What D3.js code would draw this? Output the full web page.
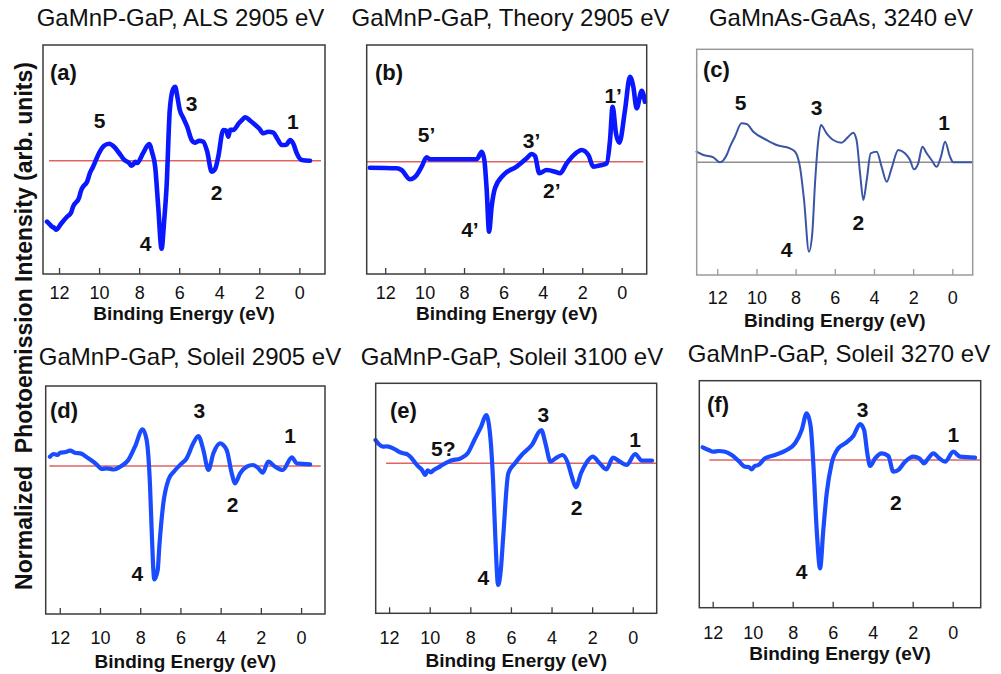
<!DOCTYPE html>
<html>
<head>
<meta charset="utf-8">
<script src="https://cdn.jsdelivr.net/npm/d3@7"></script>
<style>
  html, body { margin: 0; padding: 0; background: #fff; }
  svg { display: block; font-family: Arial, "Liberation Sans", Helvetica, sans-serif; }
</style>
</head>
<body>
<svg id="chart" width="1001" height="674"></svg>
<script>
// ---- data: binding energy (eV) and normalized intensity (arb. units) ----
const energyA = [12.6, 12.45, 12.35, 12.25, 12.13, 11.9, 11.6, 11.4, 11.3, 11.0, 10.9, 10.8, 10.6, 10.45, 10.3, 10.15, 10.0, 9.75, 9.5, 9.25, 9.0, 8.75, 8.6, 8.5, 8.4, 8.3, 8.2, 8.1, 7.8, 7.5, 7.35, 7.2, 7.05, 6.88, 6.75, 6.63, 6.47, 6.3, 6.2, 6.1, 5.97, 5.8, 5.6, 5.38, 5.2, 5.0, 4.8, 4.6, 4.38, 4.2, 4.05, 3.8, 3.65, 3.55, 3.45, 3.3, 3.0, 2.85, 2.7, 2.45, 2.2, 2.0, 1.8, 1.55, 1.3, 1.1, 0.88, 0.65, 0.47, 0.3, 0.13, -0.12, -0.53];
const intensityA = [-6.1, -6.4, -6.6, -6.7, -6.9, -6.3, -5.6, -5.2, -4.6, -3.7, -3.0, -2.6, -2.1, -1.2, -0.6, 0.1, 0.77, 1.5, 1.7, 1.4, 0.77, 0.1, -0.1, -0.23, -0.5, -0.4, -0.1, -0.23, 0.77, 1.67, 0.8, -0.6, -4.5, -8.8, -6.0, -2.6, 5.07, 7.2, 7.4, 6.5, 5.07, 4.3, 3.4, 2.07, 1.8, 2.0, 1.9, 0.9, -1.1, -0.8, 0.4, 3.07, 3.0, 2.4, 3.1, 3.07, 3.8, 4.1, 4.34, 4.0, 3.57, 3.2, 2.74, 2.9, 2.8, 2.2, 1.57, 1.6, 2.07, 1.7, 0.74, 0.07, 0.0];

const energyB = [12.78, 11.42, 11.17, 10.74, 10.4, 10.15, 9.9, 9.73, 7.36, 7.1, 6.97, 6.85, 6.73, 6.6, 6.43, 6.0, 5.33, 4.82, 4.57, 4.4, 4.18, 3.81, 3.38, 3.13, 2.79, 2.37, 2.03, 1.69, 1.44, 1.02, 0.76, 0.59, 0.46, 0.29, 0.12, -0.17, -0.42, -0.59, -0.76, -1.02, -1.18];
const intensityB = [-0.6, -0.66, -0.83, -1.76, -1.33, -0.5, 0.44, 0.24, 0.24, 1.0, 0.17, -2.83, -7.0, -4.5, -2.66, -1.33, -0.5, 0.34, 0.77, 0.57, -1.16, -0.83, -1.0, -1.16, -0.16, 0.77, 1.17, 0.67, -0.5, -0.33, -0.16, 2.17, 5.5, 2.84, 1.9, 5.17, 8.5, 7.5, 5.34, 7.1, 6.0];

const energyC = [13.06, 12.71, 12.2, 11.86, 11.52, 11.35, 11.1, 10.76, 10.5, 10.16, 9.48, 8.97, 8.29, 8.03, 7.78, 7.57, 7.32, 7.15, 7.01, 6.84, 6.71, 6.42, 6.08, 5.65, 5.31, 5.06, 4.89, 4.71, 4.54, 4.37, 4.17, 3.86, 3.61, 3.35, 3.1, 2.76, 2.42, 2.16, 1.96, 1.74, 1.53, 1.31, 1.06, 0.8, 0.58, 0.37, 0.12, -0.05, -0.99];
const intensityC = [1.06, 0.73, 0.5, 0.0, 0.73, 1.56, 2.56, 3.9, 3.83, 3.06, 2.23, 1.73, 1.4, 1.06, -0.44, -3.77, -8.94, -7.1, -2.1, 2.23, 3.73, 2.9, 2.23, 1.96, 2.56, 2.96, 2.23, -1.1, -3.77, -1.77, 0.9, 1.06, -0.44, -1.94, -0.6, 1.23, 0.9, 0.23, -0.7, -0.1, 1.56, 0.9, 0.23, -0.44, 0.56, 2.06, 0.56, 0.0, 0.0];

const energyD = [12.49, 12.3, 12.1, 11.99, 11.7, 11.49, 11.2, 10.99, 10.58, 10.17, 9.9, 9.67, 9.3, 9.0, 8.59, 8.26, 7.88, 7.68, 7.51, 7.43, 7.3, 7.13, 7.05, 6.85, 6.6, 6.3, 6.02, 5.69, 5.36, 5.11, 4.86, 4.61, 4.36, 4.03, 3.7, 3.45, 3.28, 3.03, 2.7, 2.4, 2.12, 1.91, 1.63, 1.29, 0.91, 0.46, 0.22, -0.45];
const intensityD = [0.93, 1.2, 1.1, 1.33, 1.4, 1.53, 1.3, 1.27, 0.77, 0.17, -0.3, -0.23, -0.35, -0.07, 0.6, 1.93, 3.67, 2.6, -2.07, -6.4, -11.33, -10.4, -8.07, -3.73, -1.4, -0.5, 0.1, 0.77, 2.27, 3.0, 1.6, -0.4, 1.27, 2.27, 1.6, -0.73, -1.73, -0.73, -0.07, 0.1, -0.23, -0.67, 0.43, -0.07, -0.4, 0.87, 0.27, 0.17];

const energyE = [12.67, 12.5, 12.3, 12.1, 11.8, 11.55, 11.3, 11.1, 10.88, 10.7, 10.55, 10.4, 10.22, 10.1, 9.95, 9.8, 9.6, 9.38, 8.97, 8.47, 8.13, 7.8, 7.47, 7.22, 7.05, 6.88, 6.77, 6.63, 6.5, 6.38, 6.13, 5.8, 5.47, 4.97, 4.5, 4.3, 4.05, 3.8, 3.47, 3.22, 3.0, 2.8, 2.55, 2.3, 1.97, 1.63, 1.3, 0.97, 0.63, 0.3, -0.12, -0.45, -0.95];
const intensityE = [2.33, 1.9, 1.66, 1.7, 1.5, 1.2, 1.0, 0.9, 0.5, 0.0, -0.34, -0.6, -1.17, -0.7, -0.9, -0.67, -0.45, -0.17, 0.26, 0.5, 1.0, 2.33, 3.66, 4.83, 3.33, -1.67, -7.3, -12.17, -10.7, -7.34, -1.0, 0.0, 0.83, 1.83, 3.33, 2.0, 0.16, 0.5, 0.83, 0.16, -1.34, -2.4, -1.0, 0.0, 0.66, 0.0, -0.6, 0.56, 0.16, -0.17, 0.93, 0.26, 0.26];

const energyF = [12.5, 12.2, 11.97, 11.7, 11.38, 11.05, 10.72, 10.38, 10.2, 10.05, 9.9, 9.72, 9.38, 8.88, 8.3, 7.88, 7.55, 7.3, 7.1, 6.97, 6.8, 6.63, 6.47, 6.3, 6.05, 5.72, 5.38, 4.97, 4.63, 4.43, 4.27, 4.13, 3.88, 3.55, 3.22, 2.97, 2.72, 2.38, 1.97, 1.67, 1.43, 1.22, 0.97, 0.67, 0.38, -0.03, -0.37, -1.12];
const intensityF = [1.27, 1.0, 0.83, 0.9, 0.83, 0.5, -0.07, -0.67, -0.7, -0.93, -0.6, -0.5, 0.17, 0.5, 1.0, 1.67, 3.0, 4.67, 3.33, -0.33, -7.0, -10.83, -7.0, -3.33, -0.33, 1.17, 1.67, 2.4, 3.6, 3.0, 0.67, -0.6, 0.17, 0.67, 0.4, -1.17, -1.0, -0.17, 0.33, 0.17, -0.33, 0.17, 0.67, 0.17, -0.17, 0.83, 0.33, 0.23];

// zero-intensity reference lines: [start energy, end energy]
const referenceA = [12.5, -1.08];
const referenceB = [12.94, -1.1];
const referenceC = [13.05, -1.04];
const referenceD = [12.52, -0.98];
const referenceE = [12.15, -1.18];
const referenceF = [12.17, -1.4];

const tickValues = [12, 10, 8, 6, 4, 2, 0];

const titles = [
  "GaMnP-GaP, ALS 2905 eV",
  "GaMnP-GaP, Theory 2905 eV",
  "GaMnAs-GaAs, 3240 eV",
  "GaMnP-GaP, Soleil 2905 eV",
  "GaMnP-GaP, Soleil 3100 eV",
  "GaMnP-GaP, Soleil 3270 eV"
];
const panelTags = ["(a)", "(b)", "(c)", "(d)", "(e)", "(f)"];

// peak annotations: text and anchor (energy, intensity) of the label baseline
const peaksA = [["5", 9.97, 3.27], ["3", 5.38, 4.97], ["1", 0.32, 3.17], ["2", 4.13, -3.93], ["4", 7.68, -9.0]];
const peaksB = [["5\u2019", 9.9, 2.0], ["3\u2019", 4.57, 1.34], ["2\u2019", 3.55, -3.66], ["4\u2019", 7.7, -7.56], ["1\u2019", 0.43, 5.84]];
const peaksC = [["5", 10.81, 5.23], ["3", 6.93, 4.73], ["1", 0.42, 3.23], ["2", 4.8, -6.77], ["4", 8.46, -9.44]];
const peaksD = [["3", 5.06, 4.77], ["1", 0.55, 2.27], ["2", 3.4, -4.57], ["4", 8.14, -11.47]];
const peaksE = [["5?", 9.33, 0.73], ["3", 4.4, 4.16], ["1", -0.11, 1.66], ["2", 2.76, -5.17], ["4", 7.36, -12.17]];
const peaksF = [["3", 4.5, 4.27], ["1", -0.03, 1.83], ["2", 2.84, -5.0], ["4", 7.55, -11.93]];

const xAxisLabel = "Binding Energy (eV)";
const yAxisLabel = "Normalized  Photoemission Intensity (arb. units)";

// ---- layout and styling of each panel ----
const expBlue = "#0a18ff", solBlue = "#1a4cff", gaasBlue = "#3b55a6";
const panels = [
  { energy: energyA, intensity: intensityA, ref: referenceA, peaks: peaksA,
    box: [43, 45, 325, 274], xDom: [12.8, -1.28], yDom: [-11.33, 11.57],
    frame: "#3c3c3c", color: expBlue, width: 4.6, refColor: "#e06262",
    tagPos: [50, 80], titlePos: [180.5, 26], tickPad: 12, xLabelY: 320 },
  { energy: energyB, intensity: intensityB, ref: referenceB, peaks: peaksB,
    box: [366.7, 45, 646.7, 274], xDom: [12.94, -1.27], yDom: [-11.23, 11.67],
    frame: "#3c3c3c", color: expBlue, width: 4.6, refColor: "#e06262",
    tagPos: [375, 80], titlePos: [510.5, 26], tickPad: 12, xLabelY: 320 },
  { energy: energyC, intensity: intensityC, ref: referenceC, peaks: peaksC,
    box: [696.7, 49.3, 972.7, 275], xDom: [13.05, -1.04], yDom: [-11.27, 11.3],
    frame: "#9a9a9a", color: gaasBlue, width: 2, refColor: "#8e8e8e",
    tagPos: [703, 77], titlePos: [841, 26], tickPad: 16.5, xLabelY: 327 },
  { energy: energyD, intensity: intensityD, ref: referenceD, peaks: peaksD,
    box: [45.7, 386, 325, 614], xDom: [12.7, -1.19], yDom: [-14.8, 8.0],
    frame: "#3c3c3c", color: solBlue, width: 4.2, refColor: "#e06262",
    tagPos: [50, 418], titlePos: [190, 365], tickPad: 17.5, xLabelY: 668 },
  { energy: energyE, intensity: intensityE, ref: referenceE, peaks: peaksE,
    box: [375.7, 383.3, 656.7, 613.3], xDom: [12.66, -1.18], yDom: [-15, 8],
    frame: "#3c3c3c", color: solBlue, width: 4.2, refColor: "#e06262",
    tagPos: [390, 418], titlePos: [512, 365], tickPad: 18, xLabelY: 667 },
  { energy: energyF, intensity: intensityF, ref: referenceF, peaks: peaksF,
    box: [699.3, 380.7, 980.7, 607.7], xDom: [12.67, -1.40], yDom: [-14.77, 7.93],
    frame: "#3c3c3c", color: solBlue, width: 4.2, refColor: "#e06262",
    tagPos: [707, 412], titlePos: [839, 362], tickPad: 19, xLabelY: 660 }
];

const svg = d3.select("#chart");

panels.forEach((p, i) => {
  const [x0, y0, x1, y1] = p.box;
  const x = d3.scaleLinear().domain(p.xDom).range([x0, x1]);
  const y = d3.scaleLinear().domain(p.yDom).range([y1, y0]);
  const g = svg.append("g");

  // panel title above the frame
  g.append("text")
    .attr("x", p.titlePos[0]).attr("y", p.titlePos[1])
    .attr("text-anchor", "middle")
    .attr("font-size", 24).attr("fill", "#111")
    .text(titles[i]);

  // bottom axis with inward ticks
  const axis = d3.axisBottom(x)
    .tickValues(tickValues)
    .tickFormat(d3.format("d"))
    .tickSizeInner(-6).tickSizeOuter(0)
    .tickPadding(p.tickPad);
  const ax = g.append("g")
    .attr("transform", `translate(0,${y1})`)
    .call(axis);
  ax.select(".domain").remove();
  ax.selectAll(".tick line").attr("stroke", p.frame).attr("stroke-width", 1.3);
  ax.selectAll(".tick text")
    .attr("font-size", 18).attr("fill", "#111")
    .attr("font-family", "Arial, 'Liberation Sans', sans-serif");

  // axis title
  g.append("text")
    .attr("x", (x0 + x1) / 2).attr("y", p.xLabelY)
    .attr("text-anchor", "middle")
    .attr("font-size", 19).attr("font-weight", "bold").attr("fill", "#111")
    .text(xAxisLabel);

  // zero reference line
  g.append("line")
    .attr("x1", x(p.ref[0])).attr("x2", x(p.ref[1]))
    .attr("y1", y(0)).attr("y2", y(0))
    .attr("stroke", p.refColor).attr("stroke-width", 1.6);

  // spectrum
  const pts = p.energy.map((e, k) => [e, p.intensity[k]]);
  const line = d3.line()
    .x(d => x(d[0])).y(d => y(d[1]))
    .curve(d3.curveMonotoneX);
  g.append("path")
    .datum(pts)
    .attr("d", line)
    .attr("fill", "none")
    .attr("stroke", p.color)
    .attr("stroke-width", p.width)
    .attr("stroke-linejoin", "round")
    .attr("stroke-linecap", "round");

  // frame
  g.append("rect")
    .attr("x", x0).attr("y", y0)
    .attr("width", x1 - x0).attr("height", y1 - y0)
    .attr("fill", "none")
    .attr("stroke", p.frame).attr("stroke-width", 1.5);

  // panel tag
  g.append("text")
    .attr("x", p.tagPos[0]).attr("y", p.tagPos[1])
    .attr("font-size", 22).attr("font-weight", "bold").attr("fill", "#111")
    .text(panelTags[i]);

  // peak labels
  g.selectAll("text.peak")
    .data(p.peaks)
    .join("text")
    .attr("class", "peak")
    .attr("x", d => x(d[1])).attr("y", d => y(d[2]))
    .attr("text-anchor", "middle")
    .attr("font-size", 21).attr("font-weight", "bold").attr("fill", "#111")
    .text(d => d[0]);
});

// shared vertical axis title
svg.append("text")
  .attr("transform", "translate(32,326) rotate(-90)")
  .attr("text-anchor", "middle")
  .attr("font-size", 23).attr("font-weight", "bold").attr("fill", "#111")
  .style("white-space", "pre")
  .text(yAxisLabel);
</script>
</body>
</html>
